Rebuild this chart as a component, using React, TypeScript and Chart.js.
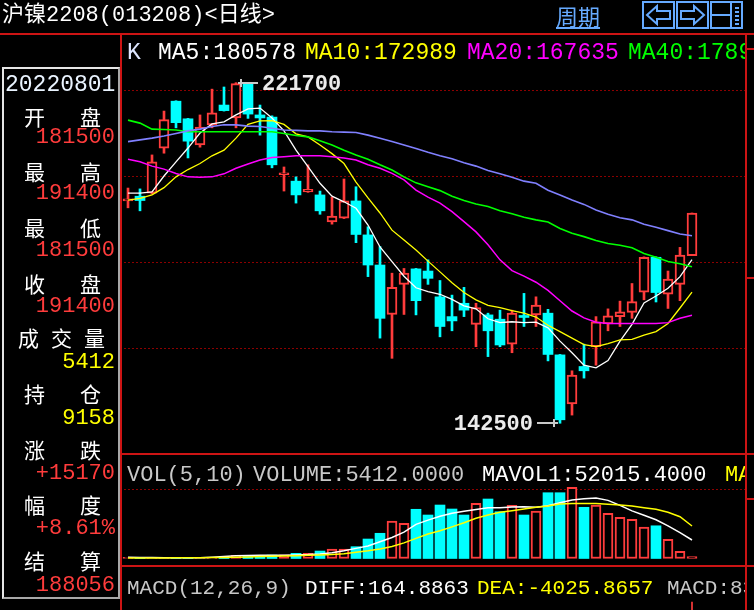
import React, { useEffect, useRef } from "react";
import { Chart, registerables } from "chart.js";

Chart.register(...registerables);

// ---------- data ----------
const opens = [194200, 195300, 196000, 206500, 217400, 213300, 207200, 211900, 216500, 213500, 221500, 214200, 213700, 200300, 198800, 196300, 195600, 189300, 190200, 194200, 186300, 179300, 167800, 174800, 178400, 177900, 171900, 167300, 170400, 165500, 167700, 166700, 160900, 167400, 167700, 168100, 158400, 147000, 155700, 160300, 165600, 167300, 168300, 173000, 181100, 172500, 174800, 181500];
const highs = [197200, 197000, 204900, 215100, 217500, 213400, 214200, 220200, 220700, 221700, 221600, 216500, 214000, 202100, 199800, 202600, 196500, 195100, 199300, 197500, 188200, 183600, 177400, 178500, 178500, 180500, 175700, 172300, 174100, 170400, 168100, 168800, 168800, 172700, 171900, 169000, 158500, 154700, 160900, 167300, 169100, 170900, 175000, 181200, 181200, 177900, 183400, 191400];
const lows = [192600, 191900, 195800, 205300, 211200, 204200, 206700, 211200, 215100, 211200, 213400, 209500, 201900, 196500, 193700, 196200, 191100, 188800, 190100, 184500, 176600, 162300, 157600, 167800, 167700, 174800, 162600, 164000, 167300, 160300, 158000, 160300, 158900, 165000, 165000, 157000, 142500, 144400, 153000, 156000, 164000, 165000, 166900, 171200, 170700, 169200, 171000, 181500];
const closes = [194200, 194300, 203300, 213100, 212400, 208100, 211400, 214700, 215200, 221500, 214400, 213500, 202600, 200400, 195600, 196900, 191900, 190700, 194200, 186400, 179300, 166900, 174100, 177400, 171000, 176200, 165000, 166300, 168800, 169400, 164000, 160700, 168100, 167100, 170000, 158500, 143300, 153700, 154700, 166100, 167500, 168400, 170800, 181100, 172900, 176000, 181600, 191400];

const ma5 = [196000, 196000, 196300, 200000, 203300, 206500, 210000, 212100, 212600, 214200, 215600, 215800, 213500, 210500, 206000, 202200, 198300, 195300, 194000, 192500, 188600, 183500, 180100, 176700, 174000, 173100, 172500, 171300, 169800, 169100, 166800, 165900, 166100, 165900, 166000, 164700, 161600, 158900, 156000, 155400, 157100, 161600, 165500, 170500, 172100, 173900, 176600, 180578];
const ma10 = [194400, 194800, 195600, 197300, 199800, 201500, 202900, 204700, 206000, 208800, 212000, 212800, 212900, 212000, 209800, 209100, 207200, 205200, 202900, 198600, 194900, 191400, 187400, 185100, 182800, 180200, 177700, 175200, 172900, 171200, 169900, 169400, 168700, 168100, 167200, 165300, 163800, 162300, 160800, 160300, 161000, 161900, 162000, 163000, 163800, 165700, 169300, 172989];
const ma20 = [203900, 203300, 202300, 201600, 200600, 199800, 199700, 199800, 200500, 201800, 202800, 203700, 204300, 204500, 204700, 204700, 204700, 204500, 204200, 203700, 202600, 201800, 200600, 199100, 196700, 195100, 193700, 191700, 189400, 187000, 184000, 180500, 178000, 176700, 175300, 173400, 171000, 168600, 167000, 166000, 165700, 165700, 165700, 165700, 165700, 165900, 166900, 167635];
const ma40 = [213000, 212300, 210900, 210800, 210700, 210300, 210300, 210300, 210300, 210300, 210300, 210300, 210300, 209900, 209400, 209100, 208200, 207200, 206000, 204900, 203900, 202600, 201400, 199800, 198400, 197500, 196600, 195300, 194300, 193500, 192900, 191900, 191200, 190400, 189800, 189300, 187800, 186700, 185900, 185000, 184300, 183900, 183300, 182000, 181100, 180100, 179600, 178900];
const ma60 = [208000, 208400, 208800, 209300, 209900, 210500, 210900, 211500, 211900, 211900, 211600, 211500, 211100, 210700, 210600, 210500, 210500, 210300, 210200, 210100, 209500, 208800, 208000, 207200, 206400, 205500, 204700, 204000, 203100, 202300, 201300, 200500, 199700, 198800, 198300, 196700, 195600, 194400, 193400, 192100, 191100, 190300, 189800, 188800, 188100, 187300, 186500, 186100];

const volumes = [3400, 1500, 1500, 1500, 1800, 1500, 2000, 2500, 3000, 9000, 9000, 9000, 9500, 10000, 14600, 14600, 21000, 26700, 26700, 33200, 54800, 70900, 105500, 99000, 138400, 122300, 150400, 139200, 122300, 155200, 167300, 131600, 149600, 122300, 133600, 185000, 185000, 200200, 144000, 150400, 127100, 115900, 110200, 88600, 92000, 54000, 20200, 5412];
const mavol1 = [3400, 3000, 2500, 2000, 1800, 1800, 2200, 3500, 5500, 7500, 8500, 9000, 9000, 9300, 10000, 11000, 13000, 16500, 22000, 28500, 35000, 47000, 59000, 74000, 96000, 108000, 119000, 127000, 133000, 138000, 143000, 143000, 144500, 145300, 144000, 148500, 157000, 164500, 168000, 170000, 163500, 149500, 134000, 121500, 109000, 91800, 72800, 52015];
const mavol2 = [1500, 1500, 1600, 1700, 1800, 2000, 2200, 2500, 3000, 3800, 4500, 5500, 6200, 7000, 8000, 8800, 9800, 11500, 13500, 17500, 21500, 27000, 33500, 44000, 56500, 69000, 78000, 89000, 100500, 113000, 122300, 130000, 134500, 139000, 144000, 147500, 153000, 155000, 155000, 154500, 152500, 150500, 147500, 143000, 138500, 130000, 117500, 91400];
const macdLast = 8381.504;

const priceTicks = [220000, 200000, 180000, 160000];
const volTicks = [195000];

// ---------- style ----------
const RED = "#ff3c3c";
const CYAN = "#00ffff";
const YEL = "#ffff00";
const BORDER = "#cc1414";
const GRID = "#8c0000";
const BLUE_UI = "#66aaff";
const MONO = '"Liberation Mono", "Noto Sans CJK SC", monospace';
const CJK = '"Noto Sans CJK SC", sans-serif';

const W = 754;
const H = 610;
const idx = closes.map((_, i) => i);
const isUp = (i: number) => closes[i] >= opens[i];
const pts = (arr: number[]) => arr.map((v, i) => ({ x: i, y: v }));

// pixel layout of the scales (chart area = whole canvas)
const X0 = 128, XSTEP = 12;
const P_UNIT = 20000 / 86; // price per px
const V_UNIT = 2812; // volume per px
const V_BASE = 558.5;
const M_UNIT = 144.5;
const M_ZERO = 660;

const T = ({ x, cy, fs = 22, color = "#fff", family = MONO, children, w, align, style }: any) => (
  <div
    style={{
      position: "absolute",
      left: x,
      top: cy - fs * (family === CJK ? 0.5 : 0.44),
      fontSize: fs,
      lineHeight: fs + "px",
      color,
      whiteSpace: "pre",
      fontFamily: family,
      width: w,
      textAlign: align,
      ...style,
    }}
  >
    {children}
  </div>
);

const infoRows = [
  { label: ["开", "盘"], value: "181500", color: RED },
  { label: ["最", "高"], value: "191400", color: RED },
  { label: ["最", "低"], value: "181500", color: RED },
  { label: ["收", "盘"], value: "191400", color: RED },
  { label: ["成", "交", "量"], value: "5412", color: YEL },
  { label: ["持", "仓"], value: "9158", color: YEL },
  { label: ["涨", "跌"], value: "+15170", color: RED },
  { label: ["幅", "度"], value: "+8.61%", color: RED },
  { label: ["结", "算"], value: "188056", color: RED },
];
const labelY = [116, 171, 227, 283, 337, 393, 449, 504, 560];
const valueY = [137, 193, 250, 306, 362, 418, 473, 528, 585];

export default function App() {
  const ref = useRef<HTMLCanvasElement>(null);

  useEffect(() => {
    document.body.style.margin = "0";
    document.body.style.background = "#000";
    document.body.style.overflow = "hidden";

    const panelPlugin = {
      id: "panel",
      beforeDatasetsDraw(chart: any) {
        const { ctx } = chart;
        const yP = chart.scales.yPrice;
        const yV = chart.scales.yVol;
        ctx.save();
        ctx.strokeStyle = GRID;
        ctx.lineWidth = 1;
        ctx.setLineDash([2, 2]);
        const line = (y: number) => {
          const yy = Math.round(y) + 0.5;
          ctx.beginPath();
          ctx.moveTo(124, yy);
          ctx.lineTo(745, yy);
          ctx.stroke();
        };
        priceTicks.forEach((v) => line(yP.getPixelForValue(v)));
        volTicks.forEach((v) => line(yV.getPixelForValue(v)));
        ctx.restore();
      },
      afterDatasetsDraw(chart: any) {
        const { ctx } = chart;
        const xs = chart.scales.x;
        const yP = chart.scales.yPrice;
        let hi = 0, lo = 0;
        highs.forEach((v, i) => { if (v > highs[hi]) hi = i; });
        lows.forEach((v, i) => { if (v < lows[lo]) lo = i; });
        ctx.save();
        ctx.strokeStyle = "#c8c8c8";
        ctx.fillStyle = "#ececec";
        ctx.lineWidth = 2;
        ctx.font = 'bold 22px "Liberation Mono"';
        ctx.textBaseline = "middle";
        // high
        let px = Math.round(xs.getPixelForValue(hi));
        let py = Math.round(yP.getPixelForValue(highs[hi]));
        ctx.beginPath();
        ctx.moveTo(px + 2, py); ctx.lineTo(px + 22, py);
        ctx.moveTo(px + 5, py - 4); ctx.lineTo(px + 5, py + 4);
        ctx.stroke();
        ctx.textAlign = "left";
        ctx.fillText(String(highs[hi]), px + 26, py + 1);
        // low
        px = Math.round(xs.getPixelForValue(lo));
        py = Math.round(yP.getPixelForValue(lows[lo]));
        ctx.beginPath();
        ctx.moveTo(px - 23, py); ctx.lineTo(px - 2, py);
        ctx.moveTo(px - 6, py - 4); ctx.lineTo(px - 6, py + 4);
        ctx.stroke();
        ctx.textAlign = "right";
        ctx.fillText(String(lows[lo]), px - 27, py + 1);
        ctx.restore();
      },
    };

    const lineDs = (data: number[], color: string, yAxisID: string, width = 1.4) => ({
      type: "line",
      data: pts(data),
      yAxisID,
      borderColor: color,
      borderWidth: width,
      pointRadius: 0,
      tension: 0,
      fill: false,
      order: 1,
    });

    const chart = new Chart(ref.current as HTMLCanvasElement, {
      type: "bar",
      data: {
        datasets: [
          {
            type: "bar",
            data: idx.map((i) => ({ x: i, y: [lows[i], highs[i]] })),
            yAxisID: "yPrice",
            backgroundColor: idx.map((i) => (isUp(i) ? RED : CYAN)),
            borderWidth: 0,
            barThickness: 2,
            grouped: false,
            order: 5,
          },
          {
            type: "bar",
            data: idx.map((i) => ({ x: i, y: [opens[i], closes[i]] })),
            yAxisID: "yPrice",
            backgroundColor: idx.map((i) => (isUp(i) ? "#000" : CYAN)),
            borderColor: idx.map((i) => (isUp(i) ? RED : CYAN)),
            borderWidth: idx.map((i) => (isUp(i) ? 2 : 0)),
            borderSkipped: false,
            barThickness: 10,
            minBarLength: 2,
            grouped: false,
            order: 4,
          },
          lineDs(ma60, "#8080ff", "yPrice", 1.6),
          lineDs(ma40, "#00ff00", "yPrice", 1.6),
          lineDs(ma20, "#ff00ff", "yPrice", 1.5),
          lineDs(ma10, YEL, "yPrice", 1.3),
          lineDs(ma5, "#ffffff", "yPrice", 1.3),
          {
            type: "bar",
            data: idx.map((i) => ({ x: i, y: volumes[i] })),
            yAxisID: "yVol",
            backgroundColor: idx.map((i) => (isUp(i) ? "#000" : CYAN)),
            borderColor: idx.map((i) => (isUp(i) ? RED : CYAN)),
            borderWidth: idx.map((i) => (isUp(i) ? 2 : 0)),
            borderSkipped: false,
            barThickness: 10,
            grouped: false,
            order: 4,
          },
          lineDs(mavol2, YEL, "yVol", 1.5),
          lineDs(mavol1, "#ffffff", "yVol", 1.5),
          {
            type: "bar",
            data: [{ x: closes.length - 1, y: macdLast }],
            yAxisID: "yMacd",
            backgroundColor: RED,
            borderWidth: 0,
            barThickness: 1,
            grouped: false,
            order: 4,
          },
        ] as any,
      },
      options: {
        responsive: false,
        devicePixelRatio: 1,
        animation: false,
        events: [],
        layout: { padding: 0 },
        plugins: { legend: { display: false }, tooltip: { enabled: false }, title: { display: false } },
        scales: {
          x: { type: "linear", display: false, offset: false, min: -X0 / XSTEP, max: (W - X0) / XSTEP },
          yPrice: { type: "linear", display: false, min: 220000 - (H - 90) * P_UNIT, max: 220000 + 90 * P_UNIT },
          yVol: { type: "linear", display: false, min: -(H - V_BASE) * V_UNIT, max: V_BASE * V_UNIT },
          yMacd: { type: "linear", display: false, min: (M_ZERO - H) * M_UNIT, max: M_ZERO * M_UNIT },
        },
      } as any,
      plugins: [panelPlugin],
    });
    return () => chart.destroy();
  }, []);

  const clipRight = { position: "absolute" as const, left: 0, top: 0, width: W, height: H, clipPath: "inset(0px 9px 0px 122px)" };

  return (
    <div style={{ position: "relative", width: W, height: H, background: "#000", overflow: "hidden" }}>
      <canvas ref={ref} width={W} height={H} style={{ position: "absolute", left: 0, top: 0 }} />

      {/* frame lines */}
      <div style={{ position: "absolute", left: 0, top: 33, width: W, height: 2, background: BORDER }} />
      <div style={{ position: "absolute", left: 120, top: 33, width: 2, height: H - 33, background: BORDER }} />
      <div style={{ position: "absolute", left: 745, top: 33, width: 2, height: H - 33, background: BORDER }} />
      <div style={{ position: "absolute", left: 120, top: 453, width: W - 120, height: 2, background: BORDER }} />
      <div style={{ position: "absolute", left: 120, top: 565, width: W - 120, height: 2, background: BORDER }} />
      {[48, 277, 498].map((y) => (
        <div key={y} style={{ position: "absolute", left: 747, top: y, width: 7, height: 2, background: BORDER }} />
      ))}

      {/* title bar */}
      <T x={2} cy={15} fs={22} color="#ffffff">沪镍2208(013208)&lt;日线&gt;</T>
      <T x={556} cy={15} fs={22} family={CJK} color={BLUE_UI} style={{ textDecoration: "underline" }}>周期</T>
      <svg width={W} height={32} style={{ position: "absolute", left: 0, top: 0 }}>
        <g fill="none" stroke={BLUE_UI} strokeWidth={2}>
          <rect x={643} y={2} width={31} height={26} />
          <path d="M647 15 L657 6 L657 11 L670 11 L670 19 L657 19 L657 24 Z" />
          <rect x={677} y={2} width={31} height={26} />
          <path d="M704 15 L694 6 L694 11 L681 11 L681 19 L694 19 L694 24 Z" />
          <rect x={711} y={2} width={31} height={26} />
          <path d="M731 2 L731 28 M711 15 L731 15" />
          <path d="M735 8 L739 8 M735 12 L739 12 M735 16 L739 16 M735 20 L739 20 M735 24 L739 24" />
        </g>
      </svg>

      {/* info panel */}
      <div
        style={{
          position: "absolute",
          left: 2,
          top: 67,
          width: 114,
          height: 528,
          borderStyle: "solid",
          borderWidth: 2,
          borderColor: "#e6e6e6 #a8a8a8 #a8a8a8 #e6e6e6",
        }}
      />
      <T x={5} cy={84} fs={23} color="#eaf4ff">20220801</T>
      {infoRows.map((r, i) => (
        <React.Fragment key={i}>
          {(r.label.length === 2 ? [24, 80] : [18, 51, 84]).map((lx, j) => (
            <T key={j} x={lx} cy={labelY[i]} fs={21} family={CJK} color="#ffffff">{r.label[j]}</T>
          ))}
          <T x={0} w={115} align="right" cy={valueY[i]} fs={22} color={r.color}>{r.value}</T>
        </React.Fragment>
      ))}

      {/* panel captions */}
      <div style={clipRight}>
        <T x={127} cy={52} fs={23} color="#dde6ff">K</T>
        <T x={158} cy={52} fs={23} color="#ffffff">MA5:180578</T>
        <T x={305} cy={52} fs={23} color={YEL}>MA10:172989</T>
        <T x={467} cy={52} fs={23} color="#ff00ff">MA20:167635</T>
        <T x={628} cy={52} fs={23} color="#00ff00">MA40:178915</T>

        <T x={127} cy={475} fs={22} color="#c8c8c8">VOL(5,10)</T>
        <T x={253} cy={475} fs={22} color="#c8c8c8">VOLUME:5412.0000</T>
        <T x={482} cy={475} fs={22} color="#ffffff">MAVOL1:52015.4000</T>
        <T x={725} cy={475} fs={22} color={YEL}>MAVOL2:90781.2000</T>

        <T x={127} cy={587} fs={21} color="#c8c8c8">MACD(12,26,9)</T>
        <T x={305} cy={587} fs={21} color="#ffffff">DIFF:164.8863</T>
        <T x={477} cy={587} fs={21} color={YEL}>DEA:-4025.8657</T>
        <T x={667} cy={587} fs={21} color="#c8c8c8">MACD:8381.5040</T>
      </div>
    </div>
  );
}
